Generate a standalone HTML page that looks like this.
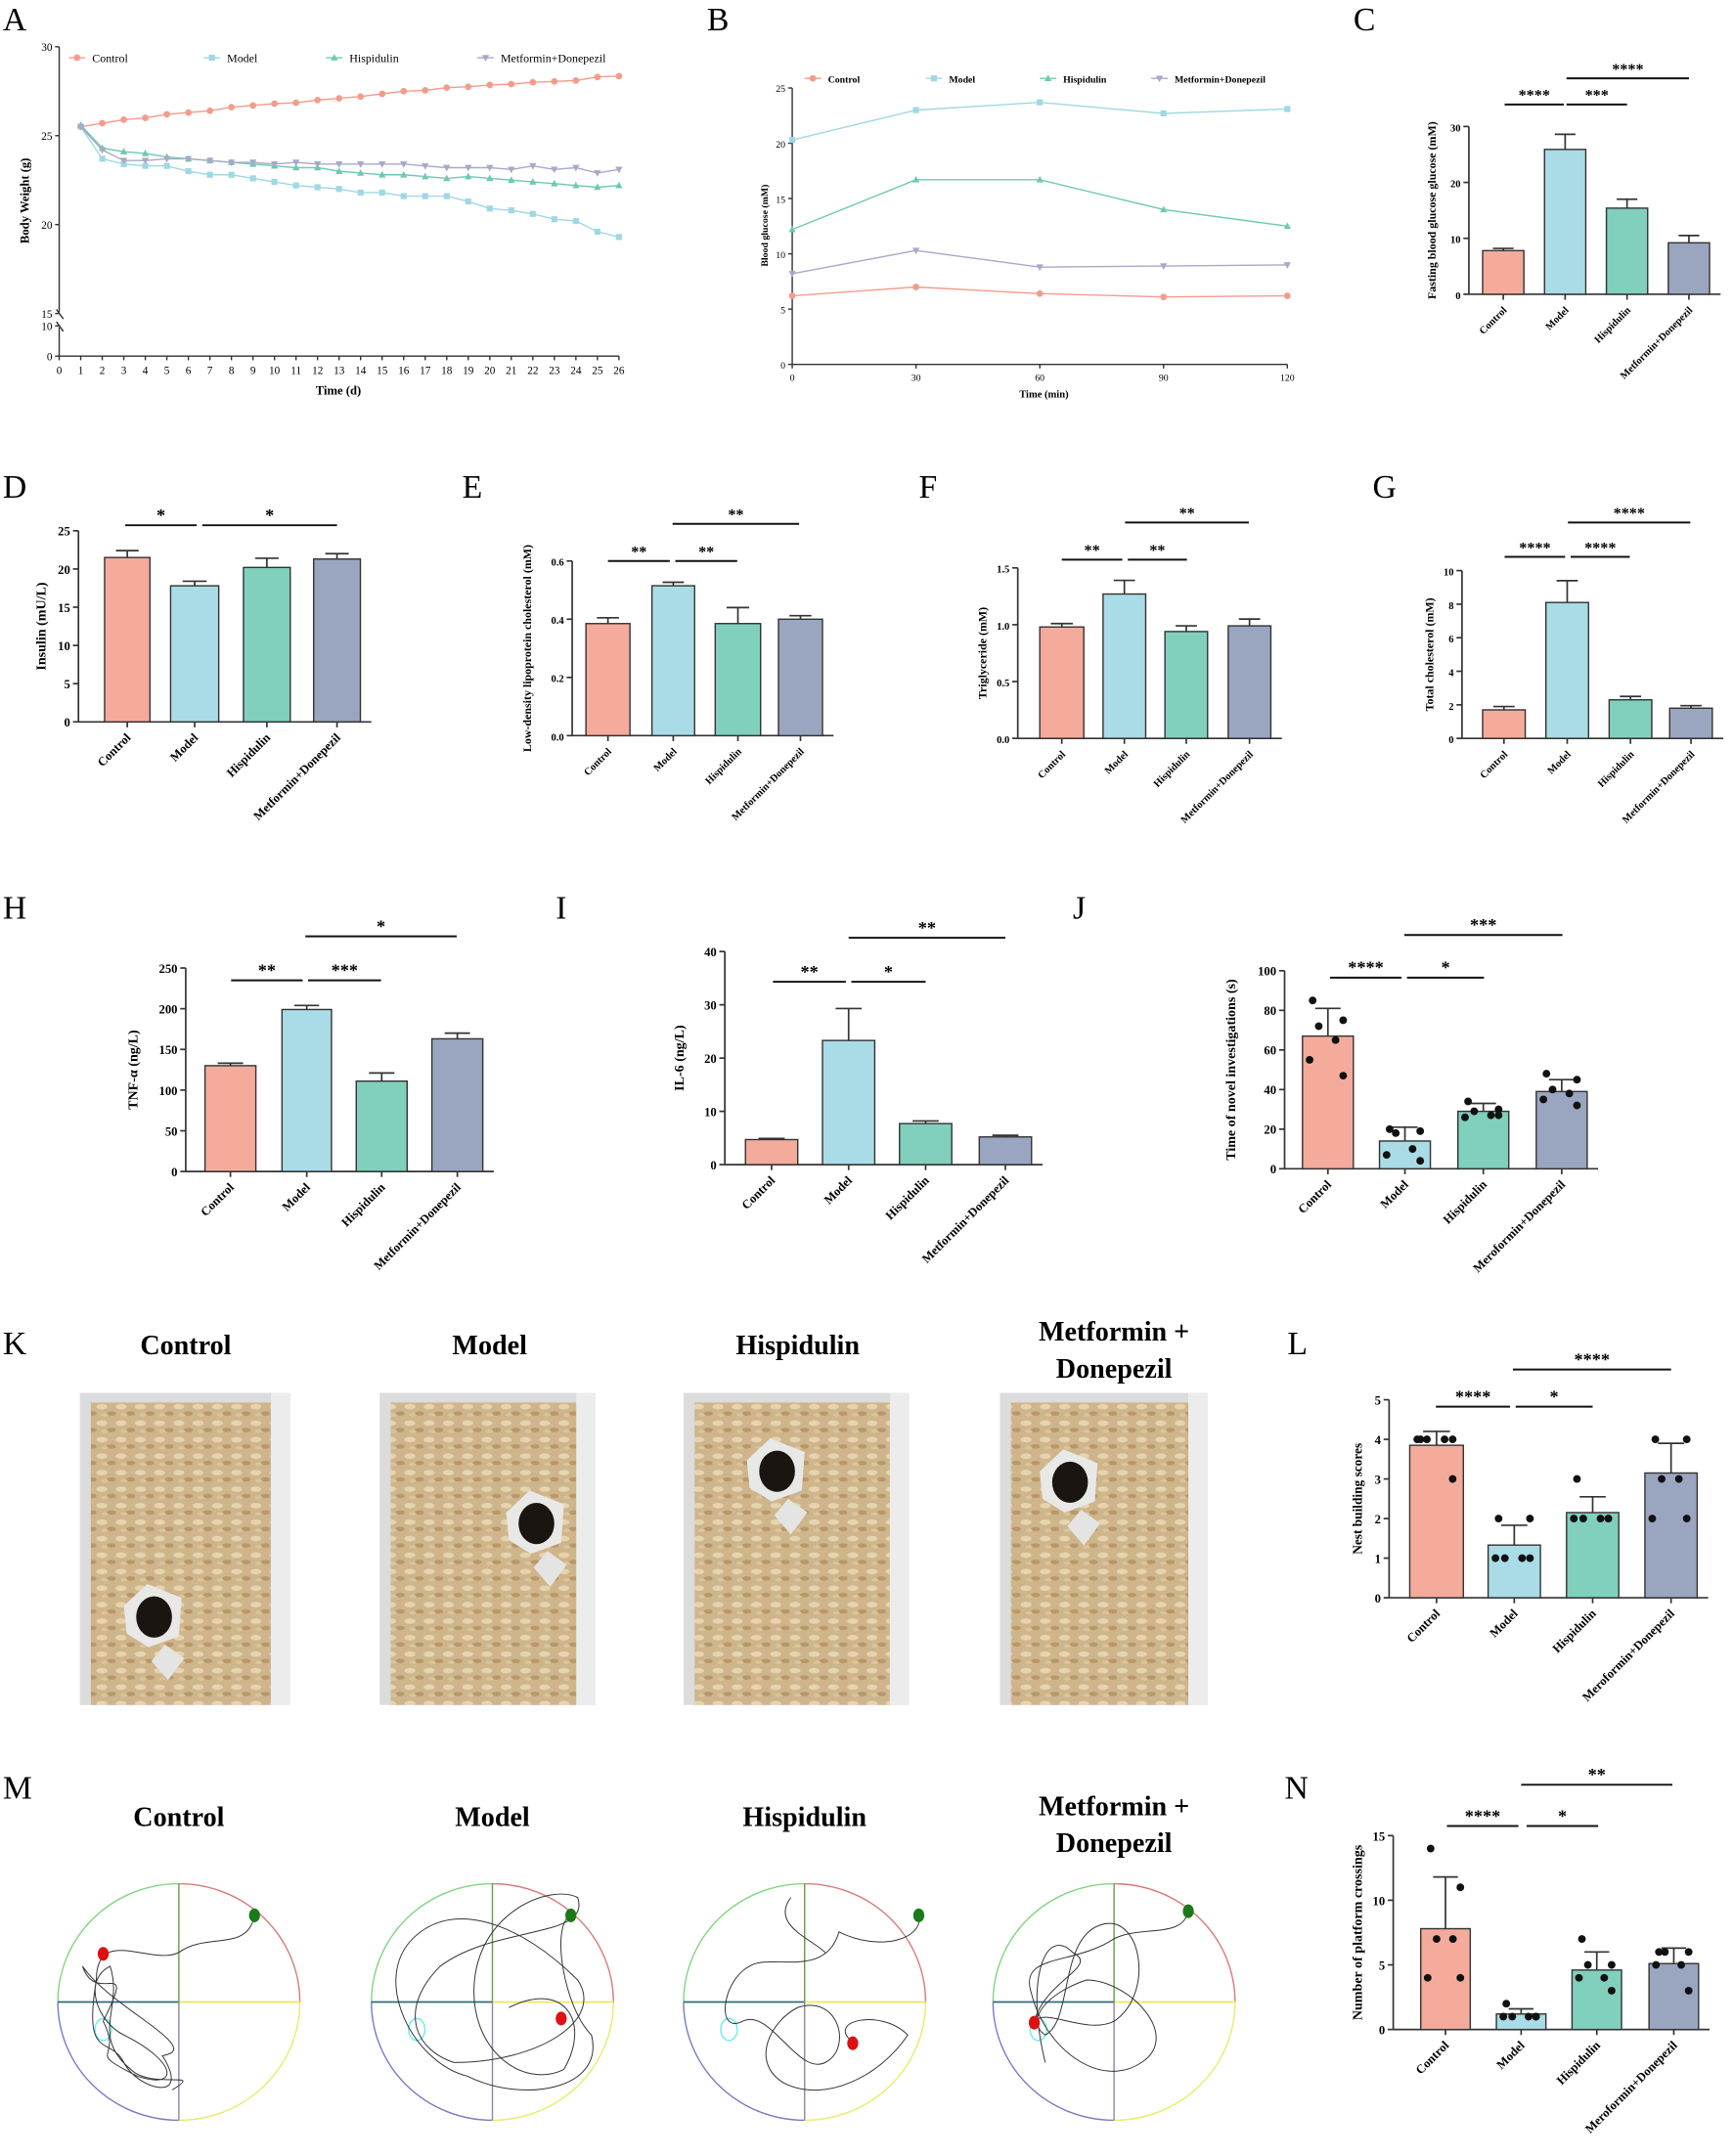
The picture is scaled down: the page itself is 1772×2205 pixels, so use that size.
<!DOCTYPE html>
<html><head><meta charset="utf-8"><style>
html,body{margin:0;padding:0;background:#fff;}
svg{display:block;font-family:"Liberation Serif",serif;}
</style></head><body>
<svg id="fig" width="1772" height="2205" viewBox="0 0 1260 1568" xmlns="http://www.w3.org/2000/svg">
<g id="static">
<text x="2" y="22" font-size="24">A</text>
<text x="514" y="22" font-size="24">B</text>
<text x="984" y="22" font-size="24">C</text>
<text x="2" y="362" font-size="24">D</text>
<text x="336" y="362" font-size="24">E</text>
<text x="668" y="362" font-size="24">F</text>
<text x="998" y="362" font-size="24">G</text>
<text x="2" y="668" font-size="24">H</text>
<text x="404" y="668" font-size="24">I</text>
<text x="780" y="668" font-size="24">J</text>
<text x="2" y="985" font-size="24">K</text>
<text x="936" y="985" font-size="24">L</text>
<text x="2" y="1308" font-size="24">M</text>
<text x="934" y="1308" font-size="24">N</text>
</g>
<g id="dyn"></g>
</svg>
<script>
// ===== Panel A data =====
const aDays = [1,2,3,4,5,6,7,8,9,10,11,12,13,14,15,16,17,18,19,20,21,22,23,24,25,26];
const aControl = [25.5,25.7,25.9,26.0,26.2,26.3,26.4,26.6,26.7,26.8,26.85,27.0,27.1,27.2,27.35,27.5,27.55,27.7,27.75,27.85,27.9,28.0,28.05,28.1,28.3,28.35];
const aModel = [25.5,23.7,23.4,23.3,23.3,23.0,22.8,22.8,22.6,22.4,22.2,22.1,22.0,21.8,21.8,21.6,21.6,21.6,21.3,20.9,20.8,20.6,20.3,20.2,19.6,19.3];
const aHisp = [25.6,24.3,24.1,24.0,23.8,23.7,23.6,23.5,23.4,23.3,23.2,23.2,23.0,22.9,22.8,22.8,22.7,22.6,22.7,22.6,22.5,22.4,22.3,22.2,22.1,22.2];
const aMet = [25.5,24.2,23.6,23.6,23.7,23.7,23.6,23.5,23.5,23.4,23.5,23.4,23.4,23.4,23.4,23.4,23.3,23.2,23.2,23.2,23.1,23.3,23.1,23.2,22.9,23.1];
const aYTicks = [0,10,15,20,25,30];
// ===== Panel B data =====
const bTimes = [0,30,60,90,120];
const bControl = [6.2,7.0,6.4,6.1,6.2];
const bModel = [20.3,23.0,23.7,22.7,23.1];
const bHisp = [12.2,16.7,16.7,14.0,12.5];
const bMet = [8.2,10.3,8.8,8.9,9.0];
const bYTicks = [0,5,10,15,20,25];
// ===== Bar charts =====
const groups = ["Control","Model","Hispidulin","Metformin+Donepezil"];
const groupsAlt = ["Control","Model","Hispidulin","Meroformin+Donepezil"];
const cVals = [7.8,25.9,15.4,9.2]; const cErr = [0.4,2.7,1.6,1.3]; const cTicks=[0,10,20,30];
const dVals = [21.5,17.8,20.2,21.3]; const dErr = [0.9,0.6,1.2,0.7]; const dTicks=[0,5,10,15,20,25];
const eVals = [0.385,0.515,0.385,0.40]; const eErr = [0.02,0.012,0.055,0.012]; const eTicks=[0,0.2,0.4,0.6];
const fVals = [0.98,1.27,0.94,0.99]; const fErr = [0.03,0.12,0.05,0.06]; const fTicks=[0,0.5,1.0,1.5];
const gVals = [1.7,8.1,2.3,1.8]; const gErr = [0.2,1.3,0.2,0.15]; const gTicks=[0,2,4,6,8,10];
const hVals = [130,199,111,163]; const hErr = [3,5,10,7]; const hTicks=[0,50,100,150,200,250];
const iVals = [4.7,23.3,7.7,5.2]; const iErr = [0.2,6,0.5,0.3]; const iTicks=[0,10,20,30,40];
const jVals = [67,14,29,39]; const jErr = [14,7,4,6]; const jTicks=[0,20,40,60,80,100];
const jDots = [[85,75,72,65,55,47],[20,19,18,10,7,4],[34,30,29,27,26,27],[48,45,40,38,35,32]];
const lVals = [3.85,1.33,2.15,3.15]; const lErr = [0.35,0.5,0.4,0.75]; const lTicks=[0,1,2,3,4,5];
const lDots = [[4,4,4,4,4,3],[2,2,1,1,1,1],[3,2,2,2,2,2],[4,4,3,3,2,2]];
const nVals = [7.8,1.2,4.6,5.1]; const nErr = [4,0.4,1.4,1.2]; const nTicks=[0,5,10,15];
const nDots = [[14,11,7,7,4,4],[2,1,1,1,1,1],[7,5,5,4,4,3],[6,6,6,5,5,3]];

const COLORS = ["#f4ab9c","#a9dce6","#80d0bd","#9aa6c0"];
const LINECOL = ["#f39c8c","#9fd8e3","#6fc9b0","#a6a9c8"];
const NS="http://www.w3.org/2000/svg";
const root=document.getElementById('dyn');
function el(tag,attrs,parent,text){const e=document.createElementNS(NS,tag);for(const k in attrs)e.setAttribute(k,attrs[k]);if(text!==undefined)e.textContent=text;(parent||root).appendChild(e);return e;}

function marker(g,type,x,y,col){
  let m;
  if(type===0){m=el('circle',{cx:x,cy:y,r:2.4,fill:col},g);}
  else if(type===1){m=el('rect',{x:x-2.2,y:y-2.2,width:4.4,height:4.4,fill:col},g);}
  else if(type===2){m=el('polygon',{points:`${x},${y-2.8} ${x+2.6},${y+2} ${x-2.6},${y+2}`,fill:col},g);}
  else {m=el('polygon',{points:`${x-2.6},${y-2} ${x+2.6},${y-2} ${x},${y+2.8}`,fill:col},g);}
  
  
}

// ===== Panel A =====
(function(){
  const g=el('g',{});
  
  
  const X=d=>43+d*(407/26);
  const Y=v=>{ if(v>=15) return 228-(v-15)*(194/15); if(v>=10) return 237-(v-10)*(9/5); return 259-v*2.2; };
  el('line',{x1:43,y1:34,x2:43,y2:227,stroke:'#333','stroke-width':1},g);
  el('line',{x1:43,y1:238,x2:43,y2:259,stroke:'#333','stroke-width':1},g);
  el('line',{x1:43,y1:259,x2:450,y2:259,stroke:'#333','stroke-width':1},g);
  el('line',{x1:41,y1:225,x2:46,y2:232,stroke:'#333'},g);el('line',{x1:41,y1:234,x2:46,y2:241,stroke:'#333'},g);
  aYTicks.forEach(t=>{const y=Y(t);el('line',{x1:40,y1:y,x2:43,y2:y,stroke:'#333'},g);
    const tx=el('text',{x:38,y:y+3,'font-size':8,'text-anchor':'end'},g,String(t));
    });
  for(let d=0;d<=26;d++){const x=X(d);el('line',{x1:x,y1:259,x2:x,y2:262,stroke:'#333'},g);
    const tx=el('text',{x:x,y:272,'font-size':8,'text-anchor':'middle'},g,String(d));
    }
  const xt=el('text',{x:246,y:287,'font-size':9,'text-anchor':'middle','font-weight':'bold'},g,'Time (d)');
  
  const yt=el('text',{x:0,y:0,'font-size':9,'text-anchor':'middle','font-weight':'bold',transform:'translate(21,146) rotate(-90)'},g,'Body Weight (g)');
  
  const series=[aControl,aModel,aHisp,aMet];
  series.forEach((s,i)=>{
    const pts=s.map((v,k)=>X(aDays[k])+','+Y(v)).join(' ');
    const pl=el('polyline',{points:pts,fill:'none',stroke:LINECOL[i],'stroke-width':1},g);
    
    s.forEach((v,k)=>marker(g,i,X(aDays[k]),Y(v),LINECOL[i]));
  });
  const lx=[58,156,245,355];
  groups.forEach((n,i)=>{
    const lg=el('g',{},g);
    el('line',{x1:lx[i]-8,y1:42,x2:lx[i]+4,y2:42,stroke:LINECOL[i]},lg);marker(lg,i,lx[i]-2,42,LINECOL[i]);
    el('text',{x:lx[i]+9,y:45,'font-size':8.5},lg,n);
  });
})();

// ===== Panel B =====
(function(){
  const g=el('g',{});
  
  
  const X=t=>576+t*(360/120);
  const Y=v=>265-v*(201/25);
  el('line',{x1:576,y1:64,x2:576,y2:265,stroke:'#333'},g);
  el('line',{x1:576,y1:265,x2:936,y2:265,stroke:'#333'},g);
  bYTicks.forEach(t=>{const y=Y(t);el('line',{x1:573,y1:y,x2:576,y2:y,stroke:'#333'},g);
    const tx=el('text',{x:571,y:y+3,'font-size':7,'text-anchor':'end'},g,String(t));
    });
  bTimes.forEach(t=>{const x=X(t);el('line',{x1:x,y1:265,x2:x,y2:268,stroke:'#333'},g);
    const tx=el('text',{x:x,y:277,'font-size':7,'text-anchor':'middle'},g,String(t));
    });
  const xt=el('text',{x:759,y:289,'font-size':7.5,'text-anchor':'middle','font-weight':'bold'},g,'Time (min)');
  
  const yt=el('text',{x:0,y:0,'font-size':7,'text-anchor':'middle','font-weight':'bold',transform:'translate(558,164) rotate(-90)'},g,'Blood glucose (mM)');
  
  [bControl,bModel,bHisp,bMet].forEach((s,i)=>{
    const pts=s.map((v,k)=>X(bTimes[k])+','+Y(v)).join(' ');
    const pl=el('polyline',{points:pts,fill:'none',stroke:LINECOL[i],'stroke-width':1},g);
    
    s.forEach((v,k)=>marker(g,i,X(bTimes[k]),Y(v),LINECOL[i]));
  });
  const lx=[591,679,762,843];
  groups.forEach((n,i)=>{
    const lg=el('g',{},g);
    el('line',{x1:lx[i]-6,y1:57,x2:lx[i]+6,y2:57,stroke:LINECOL[i]},lg);marker(lg,i,lx[i],57,LINECOL[i]);
    el('text',{x:lx[i]+11,y:60,'font-size':7,'font-weight':'bold'},lg,n);
  });
})();

// ===== Generic bar chart =====
function barChart(c){
  const g=el('g',{});
  
  
  const Y=v=>c.y0-v*(c.y0-c.y1)/c.vmax;
  const last=c.bars[c.bars.length-1][1]+8;
  el('line',{x1:c.ax,y1:c.y1,x2:c.ax,y2:c.y0,stroke:'#333','stroke-width':1.2},g);
  el('line',{x1:c.ax,y1:c.y0,x2:last,y2:c.y0,stroke:'#333','stroke-width':1.2},g);
  c.ticks.forEach(t=>{const y=Y(t);el('line',{x1:c.ax-4,y1:y,x2:c.ax,y2:y,stroke:'#333','stroke-width':1.2},g);
    const tx=el('text',{x:c.ax-6,y:y+3.5,'font-size':c.fs,'text-anchor':'end','font-weight':'bold'},g,c.fmt?c.fmt(t):String(t));
    });
  c.vals.forEach((v,i)=>{
    const [l,r]=c.bars[i];const cx=(l+r)/2;
    const b=el('rect',{x:l,y:Y(v),width:r-l,height:c.y0-Y(v),fill:COLORS[i],stroke:'#333','stroke-width':1},g);
    
    
    const e=c.errs[i];
    el('line',{x1:cx,y1:Y(v),x2:cx,y2:Y(v+e),stroke:'#333','stroke-width':1.2},g);
    el('line',{x1:cx-(r-l)*0.25,y1:Y(v+e),x2:cx+(r-l)*0.25,y2:Y(v+e),stroke:'#333','stroke-width':1.2},g);
    el('line',{x1:cx,y1:c.y0,x2:cx,y2:c.y0+4,stroke:'#333','stroke-width':1.2},g);
    if(c.dots){const d=c.dots[i];
      const offs=[-0.3,0.3,-0.15,0.15,-0.3,0.3];
      d.forEach((dv,k)=>{
        const dt=el('circle',{cx:cx+offs[k]*(r-l)*(k%2===0&&k>1?1.2:1),cy:Y(dv),r:2.8,fill:'#111'},g);
        });}
    const lt=el('text',{x:0,y:0,'font-size':c.fs,'text-anchor':'end','font-weight':'bold',transform:`translate(${cx+3},${c.y0+12}) rotate(-45)`},g,c.labels[i]);
    
  });
  const yt=el('text',{x:0,y:0,'font-size':c.yfs||c.fs+1,'text-anchor':'middle','font-weight':'bold',transform:`translate(${c.ylx},${(c.y0+c.y1)/2}) rotate(-90)`},g,c.ylabel);
  
  c.sig.forEach(s=>{
    const sg=el('g',{},g);
    el('line',{x1:s[0],y1:s[2],x2:s[1],y2:s[2],stroke:'#111','stroke-width':1.4},sg);
    el('text',{x:(s[0]+s[1])/2,y:s[2]-3,'font-size':c.fs+4,'text-anchor':'middle','font-weight':'bold'},sg,s[3]);
  });
}
barChart({name:'fasting-glucose-chart',ax:1068,y0:214,y1:92,vmax:30,ticks:cTicks,vals:cVals,errs:cErr,labels:groups,fs:7.5,
  bars:[[1078,1108],[1123,1153],[1168,1198],[1213,1243]],ylabel:'Fasting blood glucose glucose (mM)',ylx:1044,
  sig:[[1094,1137,76,'****'],[1139,1183,76,'***'],[1139,1228,57,'****']]});
barChart({name:'insulin-chart',ax:57,y0:525,y1:386,vmax:25,ticks:dTicks,vals:dVals,errs:dErr,labels:groups,fs:9,
  bars:[[76,109],[124,159],[177,211],[228,262]],ylabel:'Insulin (mU/L)',ylx:33,yfs:10,
  sig:[[91,143,382,'*'],[147,245,382,'*']]});
barChart({name:'ldl-cholesterol-chart',ax:416,y0:535,y1:408,vmax:0.6,ticks:eTicks,vals:eVals,errs:eErr,labels:groups,fs:7.5,fmt:t=>t.toFixed(1),
  bars:[[426,458],[474,505],[520,553],[566,598]],ylabel:'Low-density lipoprotein cholesterol (mM)',ylx:386,
  sig:[[442,487,408,'**'],[491,536,408,'**'],[489,581,381,'**']]});
barChart({name:'triglyceride-chart',ax:740,y0:537,y1:413,vmax:1.5,ticks:fTicks,vals:fVals,errs:fErr,labels:groups,fs:7.5,fmt:t=>t.toFixed(1),
  bars:[[756,788],[802,833],[847,878],[893,924]],ylabel:'Triglyceride (mM)',ylx:717,
  sig:[[772,816,407,'**'],[820,863,407,'**'],[818,908,380,'**']]});
barChart({name:'total-cholesterol-chart',ax:1063,y0:537,y1:415,vmax:10,ticks:gTicks,vals:gVals,errs:gErr,labels:groups,fs:7.5,
  bars:[[1078,1109],[1124,1155],[1170,1201],[1214,1245]],ylabel:'Total cholesterol (mM)',ylx:1042,
  sig:[[1094,1138,405,'****'],[1142,1185,405,'****'],[1140,1229,380,'****']]});
barChart({name:'tnf-alpha-chart',ax:135,y0:852,y1:704,vmax:250,ticks:hTicks,vals:hVals,errs:hErr,labels:groups,fs:9,
  bars:[[149,186],[205,241],[259,296],[314,351]],ylabel:'TNF-α (ng/L)',ylx:100,yfs:10,
  sig:[[168,220,713,'**'],[224,277,713,'***'],[222,332,681,'*']]});
barChart({name:'il6-chart',ax:527,y0:847,y1:692,vmax:40,ticks:iTicks,vals:iVals,errs:iErr,labels:groups,fs:9,
  bars:[[542,580],[598,636],[654,692],[712,750]],ylabel:'IL-6 (ng/L)',ylx:497,yfs:10,
  sig:[[562,615,714,'**'],[619,673,714,'*'],[617,731,682,'**']]});
barChart({name:'novel-investigation-chart',ax:934,y0:850,y1:706,vmax:100,ticks:jTicks,vals:jVals,errs:jErr,labels:groupsAlt,fs:9,dots:jDots,
  bars:[[947,984],[1003,1040],[1060,1097],[1117,1154]],ylabel:'Time of novel investigations (s)',ylx:898,yfs:10,
  sig:[[967,1019,711,'****'],[1023,1079,711,'*'],[1021,1136,680,'***']]});
barChart({name:'nest-building-chart',ax:1010,y0:1162,y1:1018,vmax:5,ticks:lTicks,vals:lVals,errs:lErr,labels:groupsAlt,fs:9,dots:lDots,
  bars:[[1025,1064],[1082,1120],[1139,1177],[1196,1234]],ylabel:'Nest building scores',ylx:990,yfs:9.5,
  sig:[[1044,1098,1023,'****'],[1102,1158,1023,'*'],[1100,1215,996,'****']]});
barChart({name:'platform-crossings-chart',ax:1013,y0:1476,y1:1335,vmax:15,ticks:nTicks,vals:nVals,errs:nErr,labels:groupsAlt,fs:9,dots:nDots,
  bars:[[1033,1069],[1088,1124],[1143,1179],[1199,1235]],ylabel:'Number of platform crossings',ylx:990,yfs:10,
  sig:[[1052,1104,1328,'****'],[1110,1162,1328,'*'],[1106,1216,1298,'**']]});

// ===== K: nest photos =====
(function(){
  const titles=[["Control"],["Model"],["Hispidulin"],["Metformin +","Donepezil"]];
  const tx=[135,356,580,810];
  const boxes=[[58,211],[276,433],[497,661],[727,878]];
  const mice=[[112,1176],[390,1108],[565,1070],[778,1078]];
  const defs=el('defs',{});
  const pat=el('pattern',{id:'shav',width:14,height:12,patternUnits:'userSpaceOnUse'},defs);
  el('rect',{width:14,height:12,fill:'#cfb58c'},pat);
  el('ellipse',{cx:4,cy:3,rx:4,ry:2,fill:'#e6d4ae'},pat);
  el('ellipse',{cx:11,cy:8,rx:3.5,ry:1.6,fill:'#b89868'},pat);
  el('ellipse',{cx:6,cy:9,rx:2.5,ry:1.3,fill:'#dcc49a'},pat);
  titles.forEach((t,i)=>{
    t.forEach((line,k)=>{const tt=el('text',{x:tx[i],y:(t.length>1?975:985)+k*27,'font-size':20,'font-weight':'bold','text-anchor':'middle'},null,line);
      });
    const [l,r]=boxes[i];
    const pg=el('g',{});
    el('rect',{x:l,y:1013,width:r-l,height:227,fill:'#dcdcdc'},pg);
    el('rect',{x:l+8,y:1020,width:r-l-22,height:220,fill:'url(#shav)'},pg);
    el('rect',{x:r-14,y:1013,width:14,height:227,fill:'#ececec'},pg);
    const m=mice[i];
    el('polygon',{points:`${m[0]-22},${m[1]-8} ${m[0]-5},${m[1]-24} ${m[0]+20},${m[1]-14} ${m[0]+18},${m[1]+14} ${m[0]-4},${m[1]+22} ${m[0]-20},${m[1]+12}`,fill:'#e8e8e6'},pg);
    el('polygon',{points:`${m[0]+8},${m[1]+20} ${m[0]+22},${m[1]+30} ${m[0]+10},${m[1]+46} ${m[0]-2},${m[1]+32}`,fill:'#e4e4e2'},pg);
    el('ellipse',{cx:m[0],cy:m[1],rx:13,ry:15,fill:'#1b1512'},pg);
  });
})();

// ===== M: water maze tracks =====
(function(){
  const titles=[["Control"],["Model"],["Hispidulin"],["Metformin +","Donepezil"]];
  const cx=[130,358,585,810];
  const tracks=[
    "M185,1393 C180,1420 150,1405 130,1420 C110,1430 70,1400 70,1440 C60,1500 80,1480 90,1500 C100,1520 140,1530 118,1495 C150,1490 80,1460 60,1430 C70,1460 100,1420 75,1470 C90,1500 60,1490 100,1510 C130,1520 130,1500 90,1480 C70,1470 60,1440 80,1430 C90,1460 65,1480 95,1505 C110,1520 150,1505 125,1520",
    "M415,1393 C400,1400 410,1460 430,1480 C440,1520 380,1530 340,1510 C300,1500 270,1440 300,1410 C330,1380 380,1400 420,1440 C440,1470 390,1500 330,1500 C300,1490 290,1460 320,1430 C360,1400 430,1410 420,1380 C400,1370 350,1390 345,1440 C340,1490 380,1520 410,1505 C430,1470 410,1440 370,1460",
    "M668,1393 C672,1410 640,1420 610,1405 C600,1440 560,1420 545,1430 C525,1440 520,1480 540,1470 C560,1460 580,1510 600,1500 C620,1490 610,1450 580,1460 C560,1470 545,1500 570,1515 C600,1530 640,1510 660,1480 C640,1460 600,1470 620,1485 M575,1380 C560,1400 590,1410 600,1420",
    "M864,1390 C860,1410 830,1400 810,1410 C780,1430 740,1420 750,1450 C760,1490 800,1520 830,1500 C860,1480 820,1440 790,1440 C760,1450 745,1470 760,1480 C780,1470 770,1410 800,1400 C830,1390 840,1450 810,1470 C790,1480 760,1460 752,1470 C760,1440 800,1430 780,1420 C760,1400 745,1440 760,1500"
  ];
  const ends=[[75,1421],[408,1468],[620,1486],[752,1471]];
  const starts=[[185,1393],[415,1393],[668,1393],[864,1390]];
  titles.forEach((t,i)=>{
    t.forEach((line,k)=>{const tt=el('text',{x:cx[i],y:(t.length>1?1320:1328)+k*27,'font-size':20,'font-weight':'bold','text-anchor':'middle'},null,line);
      });
    const g=el('g',{});
    const c=cx[i],cy=1456,rx=88,ry=86;
    el('path',{d:`M${c-rx},${cy} A${rx},${ry} 0 0 1 ${c},${cy-ry}`,fill:'none',stroke:'#7fd67f'},g);
    el('path',{d:`M${c},${cy-ry} A${rx},${ry} 0 0 1 ${c+rx},${cy}`,fill:'none',stroke:'#d97a7a'},g);
    el('path',{d:`M${c+rx},${cy} A${rx},${ry} 0 0 1 ${c},${cy+ry}`,fill:'none',stroke:'#eaea6a'},g);
    el('path',{d:`M${c},${cy+ry} A${rx},${ry} 0 0 1 ${c-rx},${cy}`,fill:'none',stroke:'#7a7ac8'},g);
    el('line',{x1:c-rx,y1:cy,x2:c,y2:cy,stroke:'#2f6b7a','stroke-width':1.2},g);
    el('line',{x1:c,y1:cy,x2:c+rx,y2:cy,stroke:'#eaea5a','stroke-width':1.2},g);
    el('line',{x1:c,y1:cy-ry,x2:c,y2:cy,stroke:'#6a9a4a'},g);
    el('line',{x1:c,y1:cy,x2:c,y2:cy+ry,stroke:'#8888aa'},g);
    el('ellipse',{cx:c-55,cy:cy+20,rx:6,ry:8,fill:'none',stroke:'#6ee','stroke-width':1},g);
    el('path',{d:tracks[i],fill:'none',stroke:'#333','stroke-width':0.7},g);
    el('ellipse',{cx:starts[i][0],cy:starts[i][1],rx:4,ry:5,fill:'#1a7a1a'},g);
    el('ellipse',{cx:ends[i][0],cy:ends[i][1],rx:4,ry:5,fill:'#dd1111'},g);
  });
})();
</script>
</body></html>
